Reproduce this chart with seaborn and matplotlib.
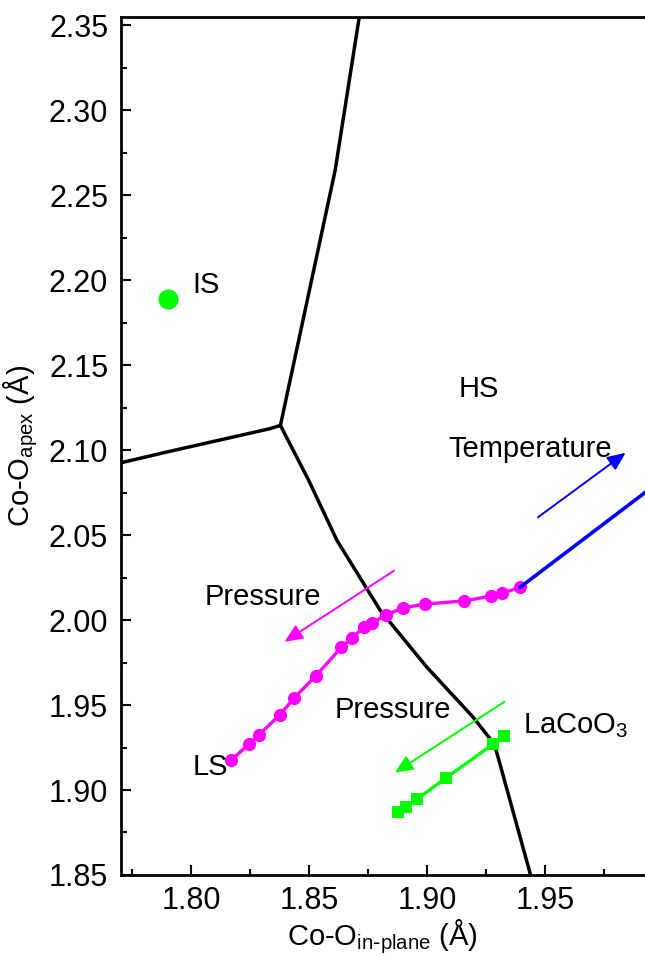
import matplotlib
matplotlib.use("Agg")
import matplotlib.pyplot as plt
import seaborn as sns
import pandas as pd
from matplotlib.ticker import MultipleLocator, FormatStrFormatter

# ---------------- data ----------------
boundary_left_x = [1.770, 1.790, 1.833, 1.8377]
boundary_left_y = [2.0925, 2.099, 2.1125, 2.1145]
boundary_up_x = [1.8377, 1.8609, 1.8717]
boundary_up_y = [2.1145, 2.2647, 2.3600]
boundary_low_x = [1.8377, 1.8496, 1.8616, 1.8799, 1.8996, 1.9192, 1.9263, 1.9291, 1.9447]
boundary_low_y = [2.1145, 2.0824, 2.0470, 2.0059, 1.9725, 1.9431, 1.9306, 1.9235, 1.8450]

pink_x = [1.8169, 1.8242, 1.8285, 1.8374, 1.8436, 1.8527, 1.8635, 1.8679, 1.8732,
          1.8766, 1.8823, 1.8895, 1.8989, 1.9154, 1.9270, 1.9315, 1.9392]
pink_y = [1.9176, 1.9269, 1.9324, 1.9441, 1.9543, 1.9672, 1.9839, 1.9896, 1.9957,
          1.9984, 2.0029, 2.0071, 2.0094, 2.0112, 2.0141, 2.0157, 2.0192]

green_x = [1.8876, 1.8908, 1.8956, 1.9077, 1.9277, 1.9326]
green_y = [1.8871, 1.8898, 1.8947, 1.9069, 1.9269, 1.9318]

blue_x = [1.9392, 2.0000]
blue_y = [2.0192, 2.0832]

is_x = [1.790]
is_y = [2.189]

xticks = [1.80, 1.85, 1.90, 1.95]
yticks = [1.85, 1.90, 1.95, 2.00, 2.05, 2.10, 2.15, 2.20, 2.25, 2.30, 2.35]

# ---------------- style ----------------
sns.set_style("ticks")
plt.rcParams['font.family'] = ['Liberation Sans', 'DejaVu Sans']
plt.rcParams['mathtext.default'] = 'regular'
plt.rcParams['text.color'] = 'black'
plt.rcParams['axes.labelcolor'] = 'black'
plt.rcParams['xtick.color'] = 'black'
plt.rcParams['ytick.color'] = 'black'

PINK = '#FF00FF'
GREEN = '#00FF00'
BLUE = '#0000FF'

fig = plt.figure(figsize=(6.45, 9.57), dpi=100)
ax = fig.add_axes([0.1871, 0.0857, 1.0 - 0.1871, 0.9826 - 0.0857])

# phase boundaries
for bx, by in [(boundary_left_x, boundary_left_y),
               (boundary_up_x, boundary_up_y),
               (boundary_low_x, boundary_low_y)]:
    sns.lineplot(x=bx, y=by, sort=False, estimator=None, color='black',
                 linewidth=2.5, ax=ax)

# pressure / temperature arrows
def arrow(tail, tip, color):
    ax.annotate("", xy=tip, xytext=tail,
                arrowprops=dict(arrowstyle='-|>,head_length=0.55,head_width=0.24',
                                color=color, lw=1.4, shrinkA=0, shrinkB=0,
                                mutation_scale=20))

arrow((1.8858, 2.0290), (1.8394, 1.9872), PINK)
arrow((1.9326, 1.9519), (1.8862, 1.9102), GREEN)
arrow((1.9468, 2.0604), (1.9840, 2.0984), BLUE)

# data series
sns.lineplot(x=pink_x, y=pink_y, sort=False, estimator=None, color=PINK,
             linewidth=2.4, marker='o', markersize=9.5, markeredgewidth=0, ax=ax)
sns.lineplot(x=green_x, y=green_y, sort=False, estimator=None, color=GREEN,
             linewidth=2.4, marker='s', markersize=8.5, markeredgewidth=0, ax=ax)
sns.lineplot(x=blue_x, y=blue_y, sort=False, estimator=None, color=BLUE,
             linewidth=2.6, ax=ax)
sns.scatterplot(x=is_x, y=is_y, color=GREEN, s=210, linewidth=0, ax=ax, zorder=5)

# annotations
fs = 21
ax.text(1.8004, 2.1922, "IS", fontsize=fs, va='baseline', ha='left')
ax.text(1.9133, 2.1314, "HS", fontsize=fs, va='baseline', ha='left')
ax.text(1.9087, 2.0961, "Temperature", fontsize=fs, va='baseline', ha='left')
ax.text(1.8056, 2.0088, "Pressure", fontsize=fs, va='baseline', ha='left')
ax.text(1.8605, 1.9422, "Pressure", fontsize=fs, va='baseline', ha='left')
ax.text(1.8004, 1.9088, "LS", fontsize=fs, va='baseline', ha='left')
ax.text(1.9406, 1.9337, "LaCoO$_3$", fontsize=fs, va='baseline', ha='left')

# axes
ax.set_xlim(1.770, 1.9922)
ax.set_ylim(1.85, 2.355)
ax.set_xticks(xticks)
ax.set_yticks(yticks)
ax.xaxis.set_minor_locator(MultipleLocator(0.025))
ax.yaxis.set_minor_locator(MultipleLocator(0.025))
ax.xaxis.set_major_formatter(FormatStrFormatter('%.2f'))
ax.yaxis.set_major_formatter(FormatStrFormatter('%.2f'))
ax.tick_params(which='major', direction='in', length=7, width=1.5,
               labelsize=22, top=False, right=False)
ax.tick_params(which='minor', direction='in', length=4, width=1.5,
               top=False, right=False)
ax.tick_params(axis='x', which='major', pad=8)
ax.tick_params(axis='y', which='major', pad=9)
for side in ['left', 'bottom', 'top']:
    ax.spines[side].set_linewidth(2.0)
    ax.spines[side].set_color('black')
ax.spines['right'].set_visible(False)

ax.set_xlabel("Co-O$_{in\\text{-}plane}$ (Å)", fontsize=21, labelpad=1)
ax.set_ylabel("Co-O$_{apex}$ (Å)", fontsize=21, labelpad=6)

fig.savefig("out.png", dpi=100)
